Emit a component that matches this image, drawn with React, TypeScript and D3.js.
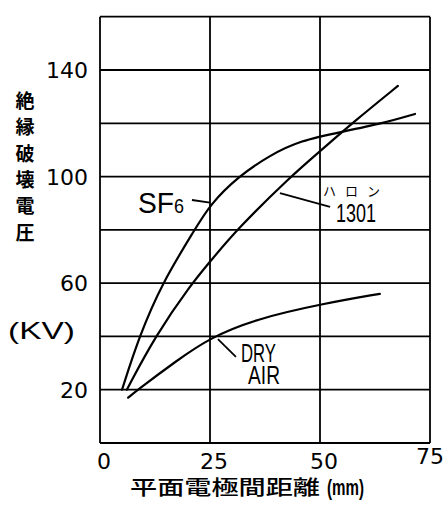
import React from "react";
import * as d3 from "d3";

// breakdown voltage (kV) vs. plane electrode gap (mm)
const sf6Gap = [5, 8.9, 14.1, 21.5, 25, 31.4, 38.6, 45.5, 55, 64.3, 71.6];
const sf6Kv = [20, 40, 60, 80, 89.5, 100, 108, 113.5, 116.8, 120, 123.5];

const halonGap = [6.1, 12.5, 20.9, 25, 31, 43.3, 50, 58, 67.7];
const halonKv = [20, 40, 60, 68, 80, 100, 109.5, 121, 134];

const airGap = [6.4, 8.6, 17.5, 25, 35.5, 50.7, 63.6];
const airKv = [17, 20, 31, 39.5, 46.6, 52.3, 56];

const xTicks = [0, 25, 50, 75];
const yGrid = [0, 20, 40, 60, 80, 100, 120, 140, 160];
const yLabels = [20, 60, 100, 140];
const yTitle = ["絶", "縁", "破", "壊", "電", "圧"];

const W = 446;
const H = 512;

export default function App() {
  const x = d3.scaleLinear().domain([0, 75]).range([100, 430]);
  const y = d3.scaleLinear().domain([0, 160]).range([443, 16.7]);

  const line = d3
    .line<[number, number]>()
    .x((d) => x(d[0]))
    .y((d) => y(d[1]))
    .curve(d3.curveBasis);

  const sf6 = sf6Gap.map((g, i) => [g, sf6Kv[i]] as [number, number]);
  const halon = halonGap.map((g, i) => [g, halonKv[i]] as [number, number]);
  const air = airGap.map((g, i) => [g, airKv[i]] as [number, number]);

  const latin = "'Liberation Sans', Arial, sans-serif";
  const digits = "'DejaVu Sans', sans-serif";
  const cjk = "'Noto Sans CJK JP', sans-serif";

  return (
    <svg
      width={W}
      height={H}
      style={{ position: "absolute", left: 0, top: 0, background: "#fff" }}
    >
      {/* grid */}
      <g stroke="#000" strokeWidth={1.8}>
        {yGrid.map((v) => (
          <line key={"h" + v} x1={x(0)} x2={x(75)} y1={y(v)} y2={y(v)} />
        ))}
        {xTicks.map((t) => (
          <line key={"v" + t} x1={x(t)} x2={x(t)} y1={y(0)} y2={y(160)} />
        ))}
      </g>

      {/* curves */}
      <g fill="none" stroke="#000" strokeWidth={2.2} strokeLinecap="round">
        <path d={line(sf6) || ""} />
        <path d={line(halon) || ""} />
        <path d={line(air) || ""} />
      </g>

      {/* tick labels */}
      <g fontFamily={digits} fontSize={22} fill="#000">
        {yLabels.map((v) => (
          <text key={"yl" + v} x={88} y={y(v) + 8} textAnchor="end">
            {v}
          </text>
        ))}
        {xTicks.map((t) => (
          <text
            key={"xl" + t}
            x={t === 75 ? x(t) : x(t) + 4}
            y={t === 75 ? 464 : 469}
            textAnchor="middle"
          >
            {t}
          </text>
        ))}
      </g>

      {/* axis titles */}
      <g fontFamily={cjk} fontWeight={700} fontSize={19} fill="#000">
        {yTitle.map((c, i) => (
          <text key={c} x={25} y={108 + i * 26.3} textAnchor="middle">
            {c}
          </text>
        ))}
      </g>
      <text
        x={8}
        y={339}
        fontFamily={latin}
        fontSize={24}
        textLength={67}
        lengthAdjust="spacingAndGlyphs"
      >
        (KV)
      </text>
      <text
        x={130}
        y={495}
        fontFamily={cjk}
        fontWeight={500}
        fontSize={20}
        textLength={190}
        lengthAdjust="spacingAndGlyphs"
      >
        平面電極間距離
      </text>
      <text
        x={327}
        y={495}
        fontFamily={latin}
        fontWeight={700}
        fontSize={22}
        textLength={37}
        lengthAdjust="spacingAndGlyphs"
      >
        (mm)
      </text>

      {/* annotations */}
      <g stroke="#000" strokeWidth={1.8}>
        <line x1={x(20.9)} y1={y(91.2)} x2={x(25)} y2={y(90.2)} />
        <line x1={x(40.9)} y1={y(93.8)} x2={x(52.3)} y2={y(88.6)} />
        <line x1={x(26.8)} y1={y(39)} x2={x(30.9)} y2={y(32.3)} />
      </g>
      <g fontFamily={latin} fill="#000">
        <text x={138} y={213} fontSize={29} textLength={36} lengthAdjust="spacingAndGlyphs">
          SF
        </text>
        <text x={174} y={213} fontSize={20} textLength={10} lengthAdjust="spacingAndGlyphs">
          6
        </text>
        <text x={336} y={222} fontSize={26} textLength={40} lengthAdjust="spacingAndGlyphs">
          1301
        </text>
        <text x={241} y={362} fontSize={25} textLength={35} lengthAdjust="spacingAndGlyphs">
          DRY
        </text>
        <text x={248} y={384} fontSize={25} textLength={32} lengthAdjust="spacingAndGlyphs">
          AIR
        </text>
      </g>
      <text
        x={323}
        y={196}
        fontFamily={cjk}
        fontSize={13}
        textLength={57}
        lengthAdjust="spacing"
      >
        ハロン
      </text>
    </svg>
  );
}
